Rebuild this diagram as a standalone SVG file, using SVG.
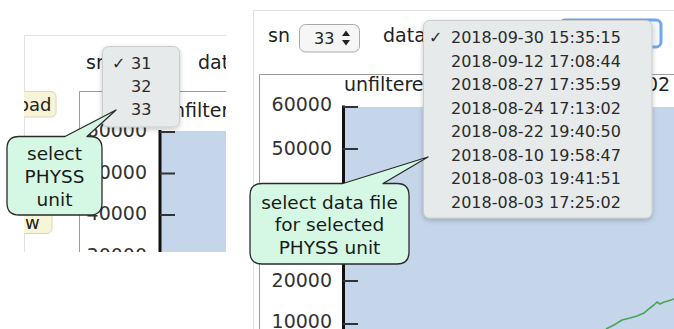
<svg xmlns="http://www.w3.org/2000/svg" width="674" height="329" viewBox="0 0 674 329">
<style>
.t{font-family:"DejaVu Sans",Verdana,sans-serif;fill:#222}
.hd{font-size:19px}
.ax{font-size:19px;fill:#333;text-anchor:end}
.mi{font-size:16px;fill:#2a2a2a}
.co{font-size:18.5px;fill:#1a1a1a;text-anchor:middle}
.frame{fill:none;stroke:#9a9a9a;stroke-width:1}
.pframe{fill:none;stroke:#e2e2e2;stroke-width:1}
.plot{fill:#c5d6ea}
.axis{stroke:#111;stroke-width:3;fill:none}
.tick{stroke:#333;stroke-width:2}
.menu{fill:#e6eaea;stroke:#c9cdcd;stroke-width:1;filter:url(#sh)}
.btn{fill:#f7f4d8;stroke:#dcd8b4;stroke-width:1}
.callout{fill:#d5f8e4;stroke:#2a2a2a;stroke-width:1.3;stroke-linejoin:round}
</style>
<defs>
<filter id="sh" x="-10%" y="-10%" width="130%" height="130%">
<feDropShadow dx="0" dy="2" stdDeviation="2.5" flood-color="#000" flood-opacity="0.22"/>
</filter>
<clipPath id="clipL"><rect x="24" y="35" width="202" height="217"/></clipPath>
<clipPath id="clipR"><rect x="253" y="10" width="421" height="319"/></clipPath>
</defs>
<rect x="0" y="0" width="674" height="329" fill="#fff"/>

<g id="left-panel" clip-path="url(#clipL)">
<rect x="24" y="35" width="202" height="217" fill="#fff"/>
<path class="pframe" d="M24.5,252 V35.5 H226"/>
<text class="t hd" x="86" y="68.5">sn</text>
<text class="t hd" x="198" y="68.5">dat</text>
<rect class="btn" x="10" y="91.5" width="46" height="25.5" rx="5"/>
<text class="t" x="18" y="111" font-size="18">oad</text>
<rect class="btn" x="10" y="211.5" width="42" height="22" rx="5"/>
<text class="t" x="25" y="229" font-size="18">w</text>
<path class="frame" d="M79.5,252 V91.5 H226"/>
<text class="t hd" x="161" y="117">unfilter</text>
<rect class="plot" x="161" y="131" width="65" height="121"/>
<path class="axis" d="M160,130 V252"/>
<path class="tick" d="M160,132 H175 M160,173.5 H175 M160,215 H175"/>
<text class="t ax" x="147" y="137">60000</text>
<text class="t ax" x="147" y="178.5">50000</text>
<text class="t ax" x="147" y="220">40000</text>
<text class="t ax" x="147" y="261.5">30000</text>
</g>

<g id="right-panel" clip-path="url(#clipR)">
<path class="pframe" d="M253.5,329 V10.5 H674"/>
<text class="t hd" x="268" y="42">sn</text>
<rect x="299.5" y="24.5" width="60" height="27.5" rx="6" fill="#f6f6f6" stroke="#a9a9a9"/>
<text class="t" x="314" y="44" font-size="16">33</text>
<path d="M342,36 L346,30.5 L350,36 Z M342,40 L346,45.5 L350,40 Z" fill="#222"/>
<text class="t hd" x="383" y="42">data</text>
<rect x="560" y="20" width="101" height="27" rx="5" fill="#f3f6fb" stroke="#6ea7f2" stroke-width="3"/>
<path class="frame" d="M259.5,329 V74.5 H674"/>
<text class="t hd" x="344" y="90.5">unfiltere</text>
<text class="t hd" x="646" y="90.5">02</text>
<rect class="plot" x="345" y="107" width="329" height="222"/>
<polyline points="606,329 614,325 622,320 630,318 637,316 644,313 650,308 654,305 657,302 660,304 664,302 668,301 674,299" fill="none" stroke="#4aa45a" stroke-width="1.6"/>
<path class="axis" d="M343.5,105.5 V329"/>
<path class="tick" d="M343,107 H358 M343,149 H358 M343,193 H358 M343,237 H358 M343,281 H358 M343,324 H358"/>
<text class="t ax" x="332" y="110.5">60000</text>
<text class="t ax" x="332" y="154.5">50000</text>
<text class="t ax" x="332" y="286.5">20000</text>
<text class="t ax" x="332" y="327.5">10000</text>
</g>

<g id="menu-sn">
<rect class="menu" x="102.5" y="46.5" width="77" height="80.5" rx="6"/>
<text class="t mi" x="112" y="69">✓</text>
<text class="t mi" x="131" y="69">31</text>
<text class="t mi" x="131" y="92">32</text>
<text class="t mi" x="131" y="115">33</text>
</g>

<g id="menu-data">
<rect class="menu" x="423.5" y="20.5" width="228.5" height="197.5" rx="6"/>
<text class="t mi" x="429" y="43">✓</text>
<text class="t mi" x="451" y="43">2018-09-30 15:35:15</text>
<text class="t mi" x="451" y="66.5">2018-09-12 17:08:44</text>
<text class="t mi" x="451" y="90">2018-08-27 17:35:59</text>
<text class="t mi" x="451" y="113.5">2018-08-24 17:13:02</text>
<text class="t mi" x="451" y="137">2018-08-22 19:40:50</text>
<text class="t mi" x="451" y="160.5">2018-08-10 19:58:47</text>
<text class="t mi" x="451" y="184">2018-08-03 19:41:51</text>
<text class="t mi" x="451" y="207.5">2018-08-03 17:25:02</text>
</g>

<g id="connectors"></g>

<g id="callout-physs">
<path class="callout" d="M19,136.5 H65 L116,110 L87,136.5 H90 Q102,136.5 102,148.5 V203 Q102,215 90,215 H19 Q7,215 7,203 V148.5 Q7,136.5 19,136.5 Z"/>
<text class="t co" x="54.5" y="160">select</text>
<text class="t co" x="54.5" y="182.5">PHYSS</text>
<text class="t co" x="54.5" y="205.5">unit</text>
</g>

<g id="callout-data">
<path class="callout" d="M262,183.5 H343 L428,157 L383,183.5 H397 Q409,183.5 409,195.5 V252 Q409,264 397,264 H262 Q250,264 250,252 V195.5 Q250,183.5 262,183.5 Z"/>
<text class="t co" x="329.5" y="208.5">select data file</text>
<text class="t co" x="329.5" y="231">for selected</text>
<text class="t co" x="329.5" y="254">PHYSS unit</text>
</g>
</svg>
